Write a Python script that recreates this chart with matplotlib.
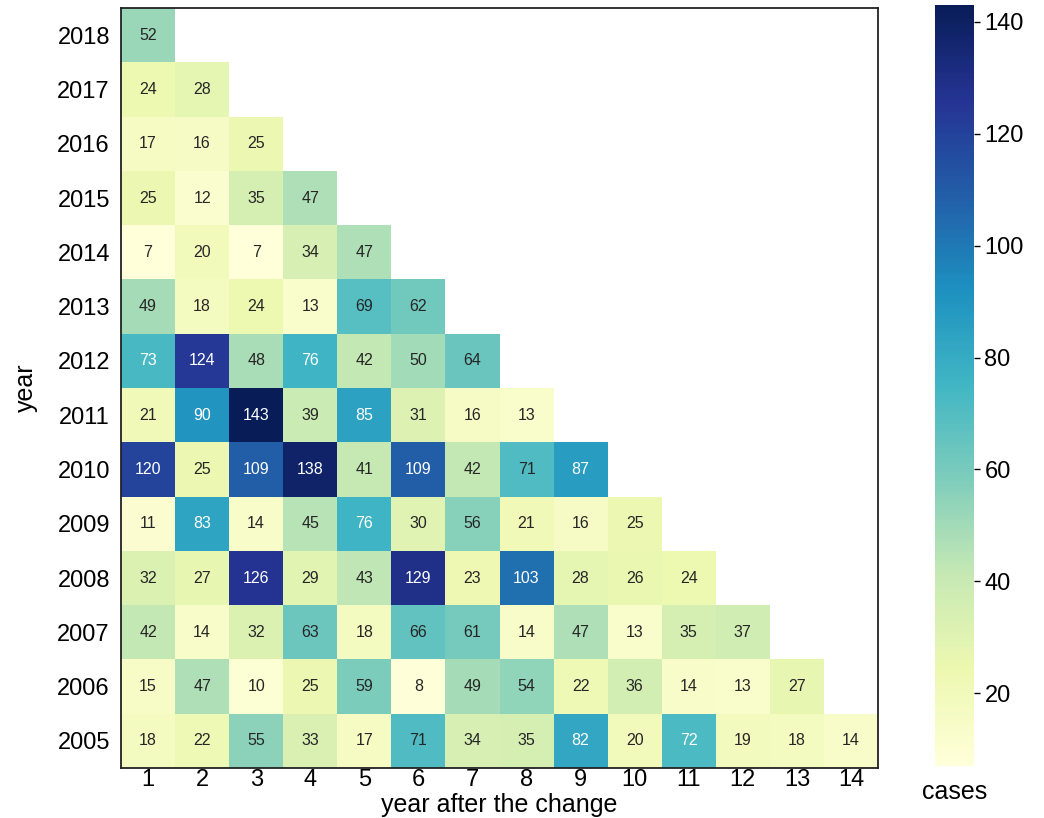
import matplotlib
matplotlib.use("Agg")
import matplotlib.pyplot as plt
import numpy as np

plt.rcParams['font.family'] = ['Liberation Sans', 'DejaVu Sans']

# cohort years (top to bottom) and cases per year after the change
years = [2018, 2017, 2016, 2015, 2014, 2013, 2012, 2011, 2010, 2009, 2008, 2007, 2006, 2005]
years_after = list(range(1, 15))

cases_2018 = [52]
cases_2017 = [24, 28]
cases_2016 = [17, 16, 25]
cases_2015 = [25, 12, 35, 47]
cases_2014 = [7, 20, 7, 34, 47]
cases_2013 = [49, 18, 24, 13, 69, 62]
cases_2012 = [73, 124, 48, 76, 42, 50, 64]
cases_2011 = [21, 90, 143, 39, 85, 31, 16, 13]
cases_2010 = [120, 25, 109, 138, 41, 109, 42, 71, 87]
cases_2009 = [11, 83, 14, 45, 76, 30, 56, 21, 16, 25]
cases_2008 = [32, 27, 126, 29, 43, 129, 23, 103, 28, 26, 24]
cases_2007 = [42, 14, 32, 63, 18, 66, 61, 14, 47, 13, 35, 37]
cases_2006 = [15, 47, 10, 25, 59, 8, 49, 54, 22, 36, 14, 13, 27]
cases_2005 = [18, 22, 55, 33, 17, 71, 34, 35, 82, 20, 72, 19, 18, 14]

rows = [cases_2018, cases_2017, cases_2016, cases_2015, cases_2014, cases_2013, cases_2012,
        cases_2011, cases_2010, cases_2009, cases_2008, cases_2007, cases_2006, cases_2005]

grid = np.full((len(years), len(years_after)), np.nan)
for i, r in enumerate(rows):
    grid[i, :len(r)] = r
data = np.ma.masked_invalid(grid)

vmin, vmax = np.nanmin(grid), np.nanmax(grid)

fig = plt.figure(figsize=(10.44, 8.18), dpi=100)
ax = fig.add_axes([0.1159, 0.0611, 0.7251, 0.9291])
cax = fig.add_axes([0.8956, 0.0636, 0.0374, 0.9303])

mesh = ax.pcolormesh(data, cmap='YlGnBu', vmin=vmin, vmax=vmax)
ax.set_xlim(0, len(years_after))
ax.set_ylim(len(years), 0)

for i, r in enumerate(rows):
    for j, v in enumerate(r):
        col = 'white' if v >= 72 else '#262626'
        ax.text(j + 0.5, i + 0.5, str(v), ha='center', va='center', fontsize=11.5, color=col)

ax.set_xticks(np.arange(len(years_after)) + 0.5)
ax.set_xticklabels(years_after, fontsize=17)
ax.set_yticks(np.arange(len(years)) + 0.5)
ax.set_yticklabels(years, fontsize=17)
ax.tick_params(axis='x', length=0, pad=1)
ax.tick_params(axis='y', length=0, pad=8)
for s in ax.spines.values():
    s.set_linewidth(1.3)
    s.set_color('#222222')
ax.set_xlabel('year after the change', fontsize=18, labelpad=1)
ax.set_ylabel('year', fontsize=18, labelpad=14)

cb = fig.colorbar(mesh, cax=cax)
cb.outline.set_visible(False)
cb.set_ticks([20, 40, 60, 80, 100, 120, 140])
cb.ax.tick_params(labelsize=17, length=4, width=1)
cax.text(0.5, -0.018, 'cases', transform=cax.transAxes, ha='center', va='top', fontsize=18)

fig.savefig('out.png', dpi=100)
